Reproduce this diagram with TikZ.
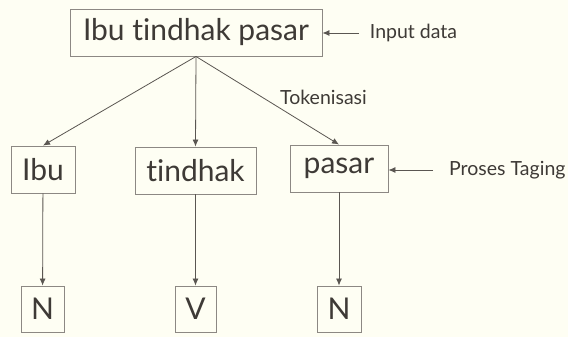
\documentclass[tikz,border=0pt]{standalone}
\usepackage{fontspec}
\setmainfont{Lato}[Ligatures={NoCommon}]
\usetikzlibrary{arrows.meta}
\definecolor{paper}{HTML}{FEFEF3}
\definecolor{ink}{HTML}{3E3A36}
\definecolor{frame}{HTML}{8C8883}
\definecolor{wire}{HTML}{5A5651}
\tikzset{
  wordbox/.style={draw=frame, line width=0.9pt, text=ink, inner sep=0pt,
    font=\fontsize{30}{34}\selectfont, minimum height=47pt},
  tagbox/.style={wordbox, minimum height=46pt},
  note/.style={text=ink, inner sep=0pt, font=\fontsize{19.5}{22}\selectfont},
  link/.style={draw=wire, line width=0.8pt, -{Latex[length=7pt,width=6pt]}},
}
\begin{document}
\begin{tikzpicture}[x=1pt,y=-1pt]
  \fill[paper] (0,0) rectangle (568,337);
  \useasboundingbox (0,0) rectangle (568,337);

  % sentence and its tokens
  \node[wordbox, minimum width=252pt] (sent) at (196,32.5) {Ibu tindhak pasar};
  \node[wordbox, minimum width=64pt]  (w1) at (43,169.5)  {Ibu};
  \node[wordbox, minimum width=121pt] (w2) at (195.5,170.5) {tindhak};
  \node[wordbox, minimum width=98pt]  (w3) at (339,168.5) {pasar};

  % part-of-speech tags
  \node[tagbox, minimum width=43pt] (t1) at (42.5,309) {N};
  \node[tagbox, minimum width=41pt] (t2) at (195.5,309) {V};
  \node[tagbox, minimum width=44pt] (t3) at (339,309) {N};

  % annotations
  \node[note] (inp) at (413.5,33) {Input data};
  \node[note] (tok) at (323.5,97) {Tokenisasi};
  \node[note, anchor=west] (tag) at (449,170) {Proses Taging};
  \coordinate (inpS) at (359,33);
  \coordinate (tagS) at (433,170);

  % connectors
  \draw[link] (sent.south) -- (w1.north);
  \draw[link] (sent.south) -- (w2.north);
  \draw[link] (sent.south) -- (w3.north);
  \draw[link] (w1) -- (t1);
  \draw[link] (w2) -- (t2);
  \draw[link] (w3) -- (t3);
  \draw[link] (inpS) -- (sent.east |- inpS);
  \draw[link] (tagS) -- (w3.east |- tagS);
\end{tikzpicture}
\end{document}
